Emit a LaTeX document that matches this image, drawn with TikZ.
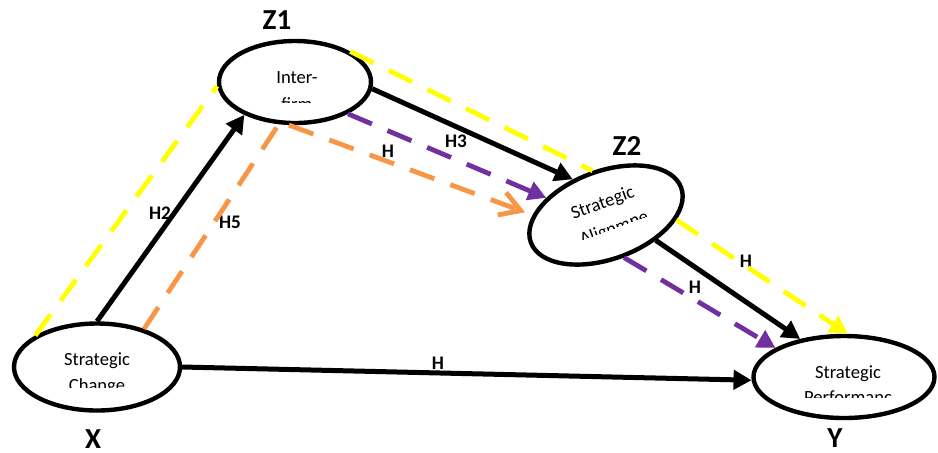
\documentclass[tikz,border=0pt]{standalone}
\usepackage{fontspec}
\setmainfont{Carlito}
\usepackage{xcolor}
\usetikzlibrary{shapes.geometric,arrows.meta}

\definecolor{hypYellow}{RGB}{255,255,0}
\definecolor{hypOrange}{RGB}{247,150,70}
\definecolor{hypPurple}{RGB}{112,48,160}

\begin{document}
\begin{tikzpicture}[x=0.5pt,y=-0.5pt, line join=round]
	\useasboundingbox (0,0) rectangle (938,452);
	
	% ===== styles =====
	\tikzset{
		oval/.style={draw=black, fill=white, ellipse, line width=2.2pt, inner sep=0pt},
		intext/.style={font=\fontsize{9.3}{11}\selectfont, anchor=base, inner sep=0pt},
		tag/.style={font=\bfseries\fontsize{14.5}{17}\selectfont, anchor=base, inner sep=0pt, text depth=0pt},
		hyp/.style={font=\bfseries\fontsize{9.6}{11}\selectfont, inner sep=0pt},
		direct/.style={draw=black, line width=2.5pt, -{Triangle[length=9pt,width=9.5pt]}},
		dashline/.style={line width=2.4pt, dash pattern=on 13pt off 8.5pt},
	}
	
	% ===== four constructs =====
	\node[oval, minimum width=83pt, minimum height=43.5pt] (X) at (97,367) {};
	\node[oval, minimum width=76pt, minimum height=41pt] (Z1) at (295,82) {};
	\node[oval, minimum width=80pt, minimum height=44pt, rotate=20] (Z2) at (606,215) {};
	\node[oval, minimum width=90.5pt, minimum height=41pt] (Y) at (844,377) {};
	
	% text inside, second line cut off
	\node[intext] (xTextA) at (97,365) {Strategic};
	\begin{scope}
		\clip (20,370) rectangle (175,387);
		\node[intext] (xTextB) at (97,391) {Change};
	\end{scope}
	
	\node[intext] (zOneTextA) at (297,83) {Inter-};
	\begin{scope}
		\clip (230,88) rectangle (360,102);
		\node[intext] (zOneTextB) at (297,110) {firm};
	\end{scope}
	
	\begin{scope}[shift={(606,215)}, rotate=20]
		\node[intext, rotate=20] (zTwoTextA) at (1,-7) {Strategic};
		\clip (-70,0) rectangle (70,15);
		\node[intext, rotate=20] (zTwoTextB) at (3,21) {Alignmne};
	\end{scope}
	
	\node[intext] (yTextA) at (848,378) {Strategic};
	\begin{scope}
		\clip (770,384) rectangle (925,397);
		\node[intext] (yTextB) at (848,403) {Performanc};
	\end{scope}
	
	% ===== variable names =====
	\node[tag] (xTag) at (93,448) {X};
	\node[tag] (zOneTag) at (277,29) {Z1};
	\node[tag] (zTwoTag) at (627,155) {Z2};
	\node[tag] (yTag) at (835,447) {Y};
	
	% ===== hypothesis labels =====
	\node[hyp] (hTwo) at (160,213) {H2};
	\node[hyp] (hFive) at (230,222) {H5};
	\node[hyp] (hThree) at (456,141) {H3};
	\node[hyp] (hMedA) at (388,151) {H};
	\node[hyp] (hDirect) at (438,363) {H};
	\node[hyp] (hMedB) at (746,261) {H};
	\node[hyp] (hMedC) at (695,287) {H};
	
	% ===== direct paths =====
	\draw[direct] (X.90) -- (Z1.213);
	\draw[direct] (X.0) -- (Y.182);
	\draw[direct] (Z1.-5) -- (Z2.113);
	\draw[direct] (Z2.-47) -- (Y.139);
	
	% ===== mediated paths (dashed) =====
	% X -> Z1 -> Z2 -> Y
	\draw[dashline, hypYellow] (X.153) -- (Z1.183);
	\draw[dashline, hypYellow] (Z1.29) -- (Z2.87);
	\draw[dashline, hypYellow, -{Triangle[length=9pt,width=9.5pt]}] (Z2.-24) -- (Y.85);
	
	% X -> Z1 -> Z2
	\draw[dashline, hypOrange] (X.39) -- (Z1.249);
	\draw[dashline, hypOrange, -{Straight Barb[length=10pt,width=12pt]}, shorten >=4pt] (Z1.262) -- (Z2.160);
	
	% Z1 -> Z2 -> Y
	\draw[dashline, hypPurple, -{Triangle[length=9pt,width=9.5pt]}] (Z1.-31) -- (Z2.144);
	\draw[dashline, hypPurple, -{Triangle[length=9pt,width=9.5pt]}] (Z2.-87) -- (Y.157);
	
\end{tikzpicture}
\end{document}
